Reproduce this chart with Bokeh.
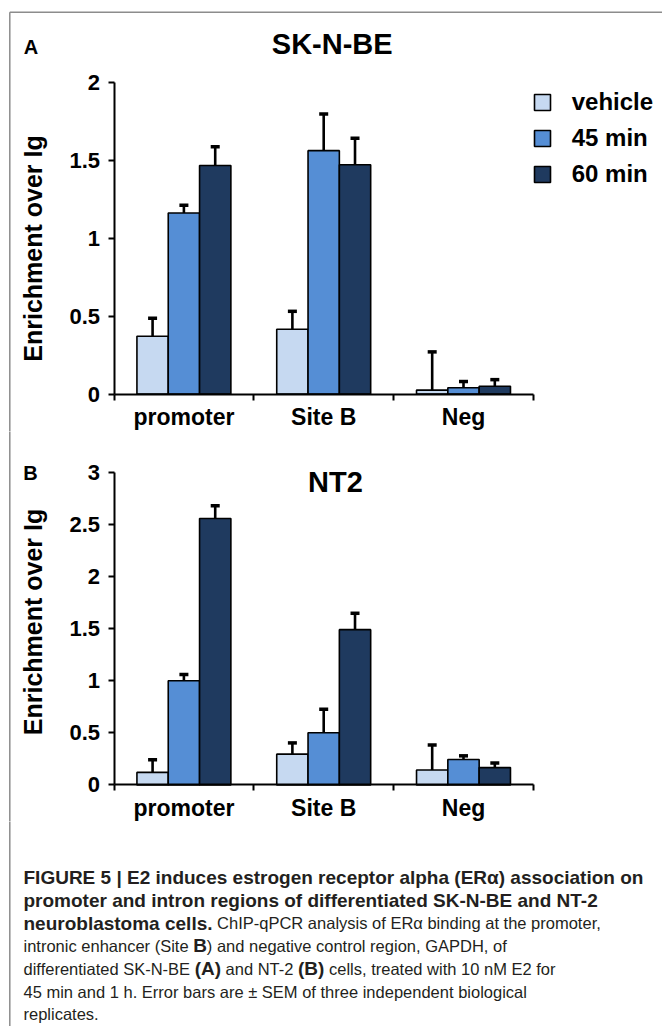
import glob
import math
import os

from bokeh.core.properties import value
from bokeh.embed import file_html
from bokeh.layouts import column
from bokeh.models import (ColumnDataSource, FixedTicker, Label, Legend,
                          LegendItem, Range1d, TeeHead, Whisker)
from bokeh.plotting import figure
from bokeh.resources import INLINE

# ---------------- data ----------------
categories = ["promoter", "Site B", "Neg"]
series_names = ["vehicle", "45 min", "60 min"]
series_colors = ["#c6d9f1", "#558ed5", "#1f3a5f"]
y_label = "Enrichment over Ig"

a_letter = "A"
a_title = "SK-N-BE"
a_vehicle = [0.37, 0.415, 0.025]
a_vehicle_err = [0.115, 0.115, 0.245]
a_45min = [1.16, 1.56, 0.04]
a_45min_err = [0.05, 0.235, 0.04]
a_60min = [1.465, 1.47, 0.05]
a_60min_err = [0.12, 0.17, 0.042]
a_yticks = [0, 0.5, 1, 1.5, 2]
a_yticklabels = ["0", "0.5", "1", "1.5", "2"]

b_letter = "B"
b_title = "NT2"
b_vehicle = [0.12, 0.295, 0.143]
b_vehicle_err = [0.122, 0.108, 0.24]
b_45min = [1.0, 0.5, 0.244]
b_45min_err = [0.06, 0.226, 0.035]
b_60min = [2.557, 1.49, 0.166]
b_60min_err = [0.123, 0.157, 0.044]
b_yticks = [0, 0.5, 1, 1.5, 2, 2.5, 3]
b_yticklabels = ["0", "0.5", "1", "1.5", "2", "2.5", "3"]

caption_lines = [
    [("FIGURE 5 | E2 induces estrogen receptor alpha (ER\u03b1) association on", True)],
    [("promoter and intron regions of differentiated SK-N-BE and NT-2", True)],
    [("neuroblastoma cells.", True),
     (" ChIP-qPCR analysis of ER\u03b1 binding at the promoter,", False)],
    [("intronic enhancer (Site ", False), ("B", True),
     (") and negative control region, GAPDH, of", False)],
    [("differentiated SK-N-BE ", False), ("(A)", True), (" and NT-2 ", False),
     ("(B)", True), (" cells, treated with 10 nM E2 for", False)],
    [("45 min and 1 h. Error bars are \u00b1 SEM of three independent biological", False)],
    [("replicates.", False)],
]

# ---------------- layout constants (page pixels) ----------------
FONT = "Liberation Sans"
FIG_W = 662
AXIS_X = 113.5          # page x of the category axis origin
X_PX = 139.8            # pixels per category
BAR_W = 0.224
BORDER_X = 9.3
BORDER_Y = 11.7
BORDER_COLOR = "#8c8c8c"


def make_panel(letter, title, vals, errs, yticks, yticklabels, page_top,
               fig_h, zero_page_y, unit_px, title_page, letter_page,
               ylabel_page_y, legend_page_top, draw_top_border):
    def dx(px):
        return (px - AXIS_X) / X_PX

    def dy(py):
        return (zero_page_y - py) / unit_px

    p = figure(width=FIG_W, height=fig_h,
               x_range=Range1d(dx(0), dx(FIG_W)),
               y_range=Range1d(dy(page_top + fig_h), dy(page_top)),
               toolbar_location=None, output_backend="svg", min_border=0)
    p.outline_line_color = None
    p.grid.visible = False
    p.background_fill_color = "white"
    p.border_fill_color = "white"

    # page frame lines (left and top)
    top_y = dy(BORDER_Y) if draw_top_border else dy(page_top - 5)
    p.segment(x0=[dx(BORDER_X)], y0=[dy(page_top + fig_h + 5)],
              x1=[dx(BORDER_X)], y1=[top_y],
              line_color=BORDER_COLOR, line_width=1.5)
    if draw_top_border:
        p.segment(x0=[dx(BORDER_X)], y0=[dy(BORDER_Y)],
                  x1=[dx(FIG_W + 5)], y1=[dy(BORDER_Y)],
                  line_color=BORDER_COLOR, line_width=1.5)

    renderers = []
    for j in range(3):
        xs = [i + 0.5 + (j - 1) * BAR_W for i in range(len(categories))]
        src = ColumnDataSource(dict(x=xs, top=vals[j],
                                    upper=[v + e for v, e in zip(vals[j], errs[j])]))
        r = p.vbar(x="x", top="top", bottom=0, width=BAR_W, source=src,
                   fill_color=series_colors[j], line_color="black",
                   line_width=1.6)
        renderers.append(r)
        w = Whisker(base="x", lower="top", upper="upper", source=src,
                    line_color="black", line_width=2.6, level="overlay",
                    upper_head=TeeHead(size=9, line_width=3.5, line_color="black"),
                    lower_head=None)
        p.add_layout(w)

    xa = p.xaxis[0]
    xa.fixed_location = 0
    xa.ticker = FixedTicker(ticks=[i + 0.5 for i in range(len(categories))],
                            minor_ticks=list(range(len(categories) + 1)))
    xa.major_label_overrides = {i + 0.5: c for i, c in enumerate(categories)}
    xa.bounds = (0, len(categories))
    xa.axis_line_width = 2
    xa.axis_line_color = "black"
    xa.major_tick_line_color = None
    xa.major_tick_out = 0
    xa.major_tick_in = 0
    xa.minor_tick_out = 6
    xa.minor_tick_in = 0
    xa.minor_tick_line_width = 2
    xa.minor_tick_line_color = "black"
    xa.major_label_standoff = 4
    xa.major_label_text_font = FONT
    xa.major_label_text_font_size = "23px"
    xa.major_label_text_font_style = "bold"
    xa.major_label_text_color = "black"

    ya = p.yaxis[0]
    ya.fixed_location = 0
    ya.ticker = FixedTicker(ticks=yticks, minor_ticks=[])
    ya.major_label_overrides = {t: l for t, l in zip(yticks, yticklabels)}
    ya.bounds = (0, yticks[-1])
    ya.axis_line_width = 2
    ya.axis_line_color = "black"
    ya.major_tick_out = 6
    ya.major_tick_in = 0
    ya.major_tick_line_width = 2
    ya.major_tick_line_color = "black"
    ya.minor_tick_line_color = None
    ya.major_label_standoff = 8
    ya.major_label_text_font = FONT
    ya.major_label_text_font_size = "22px"
    ya.major_label_text_font_style = "bold"
    ya.major_label_text_color = "black"

    p.add_layout(Label(x=dx(title_page[0]), y=dy(title_page[1]), text=title,
                       text_font=FONT, text_font_size="29px",
                       text_font_style="bold", text_align="center",
                       text_baseline="middle", text_color="black"))
    p.add_layout(Label(x=dx(letter_page[0]), y=dy(letter_page[1]), text=letter,
                       text_font=FONT, text_font_size="20px",
                       text_font_style="bold", text_align="center",
                       text_baseline="middle", text_color="black"))
    p.add_layout(Label(x=dx(32), y=dy(ylabel_page_y), text=y_label,
                       angle=math.pi / 2, text_font=FONT, text_font_size="25px",
                       text_font_style="bold", text_align="center",
                       text_baseline="middle", text_color="black"))

    if legend_page_top is not None:
        items = [LegendItem(label=n, renderers=[r])
                 for n, r in zip(series_names, renderers)]
        row_h, gap = 28, 8
        leg_h = 3 * row_h + 2 * gap
        leg_bottom_page = legend_page_top + leg_h
        leg = Legend(items=items,
                     location=(531.7, page_top + fig_h - leg_bottom_page),
                     glyph_width=20, glyph_height=20, label_standoff=20,
                     spacing=gap, padding=0, margin=0,
                     label_text_font=FONT, label_text_font_size="24px",
                     label_text_font_style="bold", label_text_color="black",
                     background_fill_alpha=0, border_line_color=None)
        p.add_layout(leg)
    return p


pa = make_panel(a_letter, a_title,
                [a_vehicle, a_45min, a_60min],
                [a_vehicle_err, a_45min_err, a_60min_err],
                a_yticks, a_yticklabels, page_top=0, fig_h=431,
                zero_page_y=393.5, unit_px=156,
                title_page=(331.7, 43), letter_page=(30.5, 46),
                ylabel_page_y=248, legend_page_top=87.7, draw_top_border=True)
pb = make_panel(b_letter, b_title,
                [b_vehicle, b_45min, b_60min],
                [b_vehicle_err, b_45min_err, b_60min_err],
                b_yticks, b_yticklabels, page_top=431, fig_h=390,
                zero_page_y=784.4, unit_px=104.2,
                title_page=(335, 481.7), letter_page=(30, 472),
                ylabel_page_y=621.5, legend_page_top=None, draw_top_border=False)

# ---------------- caption ----------------
def find_font(fname):
    roots = ["/usr/share/fonts", "/usr/local/share/fonts",
             os.path.expanduser("~/.local/share/fonts"),
             os.path.expanduser("~/.fonts")]
    for root in roots:
        hits = glob.glob(os.path.join(root, "**", fname), recursive=True)
        if hits:
            return hits[0]
    return None


bold_path = find_font("LiberationSans-Bold.ttf")
narrow_path = find_font("LiberationSansNarrow-Regular.ttf")
if narrow_path:
    reg_family, reg_size, reg_path = "Liberation Sans Narrow", 20, narrow_path
else:
    reg_family, reg_size, reg_path = "Liberation Sans", 16.5, find_font("LiberationSans-Regular.ttf")
bold_family, bold_size = "Liberation Sans", 19

_font_cache = {}


def text_len(txt, path, size):
    try:
        from PIL import ImageFont
        key = (path, size)
        if key not in _font_cache:
            _font_cache[key] = ImageFont.truetype(path, size)
        return _font_cache[key].getlength(txt)
    except Exception:
        return len(txt) * size * (0.55 if path == bold_path else 0.42)


CAP_TOP = 821
CAP_H = 205
pc = figure(width=FIG_W, height=CAP_H, x_range=Range1d(0, FIG_W),
            y_range=Range1d(CAP_H, 0), toolbar_location=None,
            output_backend="svg", min_border=0, x_axis_location=None,
            y_axis_location=None)
pc.outline_line_color = None
pc.grid.visible = False
pc.segment(x0=[BORDER_X], y0=[-5], x1=[BORDER_X], y1=[CAP_H + 5],
           line_color=BORDER_COLOR, line_width=1.5)

bold_seg = dict(x=[], y=[], text=[])
reg_seg = dict(x=[], y=[], text=[])
line_y0 = 877 - CAP_TOP
line_step = 22.8
x0 = 23
for li, segs in enumerate(caption_lines):
    xcur = x0
    y = line_y0 + li * line_step
    for txt, is_bold in segs:
        path = bold_path if is_bold else reg_path
        size = bold_size if is_bold else reg_size
        stripped = txt.lstrip(" ")
        lead = len(txt) - len(stripped)
        xs = xcur + (text_len(" " * lead, path, size) if lead else 0)
        d = bold_seg if is_bold else reg_seg
        d["x"].append(xs)
        d["y"].append(y)
        d["text"].append(stripped.rstrip(" "))
        xcur += text_len(txt, path, size)

pc.text(x="x", y="y", text="text", source=ColumnDataSource(bold_seg),
        text_font=value(bold_family), text_font_size=f"{bold_size}px",
        text_font_style="bold", text_baseline="middle", text_color="#231f20")
pc.text(x="x", y="y", text="text", source=ColumnDataSource(reg_seg),
        text_font=value(reg_family), text_font_size=f"{reg_size}px",
        text_baseline="middle", text_color="#231f20")

layout = column(pa, pb, pc, spacing=0)

open("out.html", "w").write(file_html(layout, INLINE))
